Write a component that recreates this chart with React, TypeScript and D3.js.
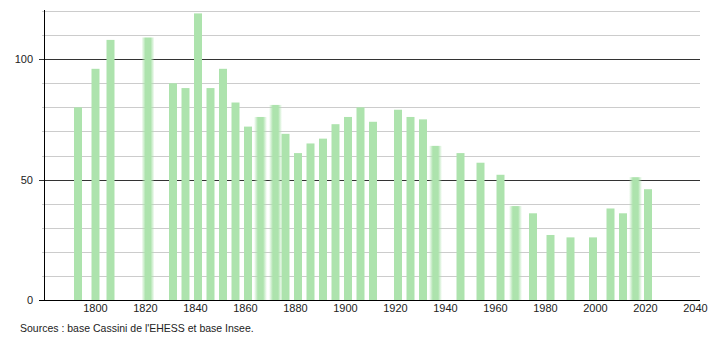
import React from "react";
import * as d3 from "d3";

const years = [1793, 1800, 1806, 1821, 1831, 1836, 1841, 1846, 1851, 1856, 1861, 1866, 1872, 1876, 1881, 1886, 1891, 1896, 1901, 1906, 1911, 1921, 1926, 1931, 1936, 1946, 1954, 1962, 1968, 1975, 1982, 1990, 1999, 2006, 2011, 2016, 2021];
const population = [80, 96, 108, 109, 90, 88, 119, 88, 96, 82, 72, 76, 81, 69, 61, 65, 67, 73, 76, 80, 74, 79, 76, 75, 64, 61, 57, 52, 39, 36, 27, 26, 26, 38, 36, 51, 46];
const blurredYears = [1821, 1866, 1872, 1936, 1968, 2016];
const xTicks = [1800, 1820, 1840, 1860, 1880, 1900, 1920, 1940, 1960, 1980, 2000, 2020, 2040];
const yMajor = [0, 50, 100];
const yMinor = [10, 20, 30, 40, 60, 70, 80, 90, 110, 120];
const sourceText = "Sources : base Cassini de l'EHESS et base Insee.";

export default function App() {
  const W = 710, H = 340;
  const left = 44, right = 700, top = 11, bottom = 300;
  const x = d3.scaleLinear().domain([1800, 2040]).range([95.5, 695.5]);
  const y = d3.scaleLinear().domain([0, 120]).range([bottom, top]);
  const barW = 8;
  const green = "#ade3ad";
  const font = "'Liberation Sans', Arial, sans-serif";

  return (
    <svg width={W} height={H} style={{ position: "absolute", left: 0, top: 0 }} fontFamily={font}>
      <defs>
        <linearGradient id="blur" x1="0" x2="1" y1="0" y2="0">
          <stop offset="0" stopColor={green} stopOpacity={0} />
          <stop offset="0.3" stopColor={green} stopOpacity={1} />
          <stop offset="0.7" stopColor={green} stopOpacity={1} />
          <stop offset="1" stopColor={green} stopOpacity={0} />
        </linearGradient>
      </defs>
      <rect width={W} height={H} fill="#fff" />
      {yMinor.map((v) => (
        <g key={"mi" + v}>
          <line x1={left - 2} x2={right} y1={Math.round(y(v)) + 0.5} y2={Math.round(y(v)) + 0.5} stroke="#cccccc" strokeWidth={1} />
        </g>
      ))}
      {yMajor.map((v) => (
        <line key={"ma" + v} x1={left - 5} x2={right} y1={Math.round(y(v)) + 0.5} y2={Math.round(y(v)) + 0.5} stroke="#333" strokeWidth={1} />
      ))}
      {years.map((yr, i) => {
        const blurred = blurredYears.includes(yr);
        const cx = x(yr);
        const w = blurred ? barW + 5 : barW;
        return (
          <rect
            key={yr}
            x={cx - w / 2}
            y={y(population[i])}
            width={w}
            height={bottom - y(population[i])}
            fill={blurred ? "url(#blur)" : green}
          />
        );
      })}
      <line x1={left - 5} x2={right} y1={bottom + 0.5} y2={bottom + 0.5} stroke="#000" strokeWidth={1} />
      <line x1={left + 0.5} x2={left + 0.5} y1={top - 1} y2={bottom} stroke="#000" strokeWidth={1} />
      {yMajor.map((v) => (
        <text key={"yl" + v} x={33} y={y(v) + 4} textAnchor="end" fontSize={11} fill="#222">
          {v}
        </text>
      ))}
      {xTicks.map((t) => (
        <text key={"xl" + t} x={x(t)} y={312} textAnchor="middle" fontSize={11} fill="#222">
          {t}
        </text>
      ))}
      <text x={20} y={332} fontSize={10.5} fill="#222">
        {sourceText}
      </text>
    </svg>
  );
}
